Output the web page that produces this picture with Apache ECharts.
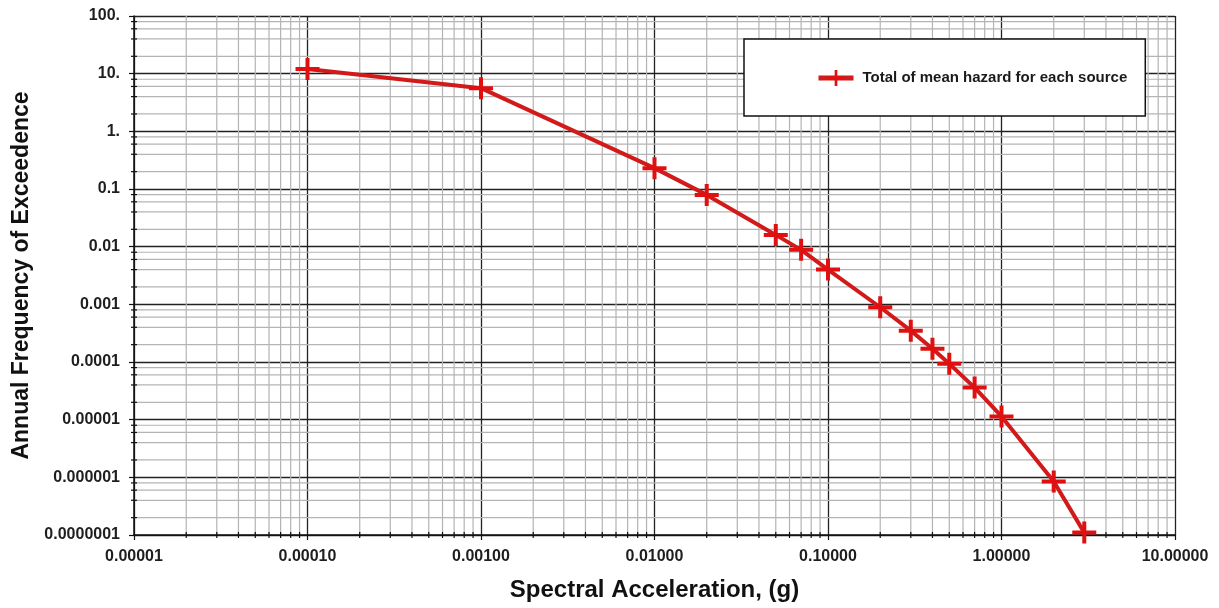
<!DOCTYPE html>
<html>
<head>
<meta charset="utf-8">
<script src="https://cdn.jsdelivr.net/npm/echarts@6/dist/echarts.min.js"></script>
<style>
  html, body { margin: 0; padding: 0; background: #fff; }
  #chart { width: 1219px; height: 608px; }
</style>
</head>
<body>
<div id="chart"></div>
<script>
// Hazard curve: spectral acceleration (g) vs annual frequency of exceedance
const accel = [0.0001, 0.001, 0.01, 0.02, 0.05, 0.07, 0.1, 0.2, 0.3, 0.4, 0.5, 0.7, 1.0, 2.0, 3.0];
const frequency = [12, 5.6, 0.23, 0.079, 0.016, 0.0088, 0.004, 0.00089, 0.00035, 0.00017, 0.000093, 0.000036, 0.0000114, 0.00000085, 0.00000011];
const seriesName = 'Total of mean hazard for each source';

const xMin = 0.00001, xMax = 10;
const yMin = 0.0000001, yMax = 100;

// Minor gridline positions (2..9 within each decade on x, 2,4,6,8 on y)
function minorValues(lo, hi, mults) {
  const out = [];
  for (let e = Math.round(Math.log10(lo)); e < Math.round(Math.log10(hi)); e++) {
    mults.forEach(m => out.push(m * Math.pow(10, e)));
  }
  return out;
}
const xMinor = minorValues(xMin, xMax, [2, 3, 4, 5, 6, 7, 8, 9]);
const yMinor = minorValues(yMin, yMax, [2, 4, 6, 8]);

const FONT = 'Liberation Sans, Arial, sans-serif';
const labelFont = { fontFamily: FONT, fontWeight: 'bold', fontSize: 16, color: '#1e1e1e' };
const plusPath = 'path://M0,9 H24 V13 H0 Z M10,0 H14 V22 H10 Z';

const chart = echarts.init(document.getElementById('chart'), null, { renderer: 'canvas' });

// Minor gridline plus a short tick crossing the axis line
function gridLines(axisDim) {
  return function (params, api) {
    const cs = params.coordSys;
    if (axisDim === 'x') {
      const px = api.coord([api.value(0), 1])[0];
      return {
        type: 'group',
        children: [
          { type: 'line', shape: { x1: px, y1: cs.y, x2: px, y2: cs.y + cs.height }, style: { stroke: '#b4b4b4', lineWidth: 1.2 } },
          { type: 'line', shape: { x1: px, y1: cs.y + cs.height - 3, x2: px, y2: cs.y + cs.height + 3 }, style: { stroke: '#111', lineWidth: 1.2 } }
        ]
      };
    }
    const py = api.coord([1, api.value(1)])[1];
    return {
      type: 'group',
      children: [
        { type: 'line', shape: { x1: cs.x, y1: py, x2: cs.x + cs.width, y2: py }, style: { stroke: '#b4b4b4', lineWidth: 1.2 } },
        { type: 'line', shape: { x1: cs.x - 3, y1: py, x2: cs.x + 3, y2: py }, style: { stroke: '#111', lineWidth: 1.2 } }
      ]
    };
  };
}

chart.setOption({
  animation: false,
  backgroundColor: '#fff',
  grid: { left: 134, right: 44, top: 16, bottom: 73, containLabel: false },
  legend: {
    left: 744, top: 39,
    padding: [31, 18, 30, 72],
    backgroundColor: '#fff',
    borderColor: '#111', borderWidth: 1.5,
    itemWidth: 35, itemHeight: 20, itemGap: 0,
    lineStyle: { width: 5, color: '#d21a1a' },
    textStyle: { fontFamily: FONT, fontWeight: 'bold', fontSize: 15, color: '#1a1a1a', padding: [0, 0, 0, 4] },
    data: [seriesName]
  },
  xAxis: {
    type: 'log', logBase: 10, min: xMin, max: xMax, splitNumber: 6,
    name: 'Spectral Acceleration, (g)', nameLocation: 'middle', nameGap: 43,
    nameTextStyle: { fontFamily: FONT, fontWeight: 'bold', fontSize: 24, color: '#111' },
    axisLine: { show: true, onZero: false, lineStyle: { color: '#111', width: 1.5 } },
    axisTick: { show: true, inside: false, length: 5, lineStyle: { color: '#111', width: 1.2 } },
    axisLabel: Object.assign({ margin: 14, formatter: v => v.toFixed(5) }, labelFont),
    splitLine: { show: true, lineStyle: { color: '#222', width: 1.3 } }
  },
  yAxis: {
    type: 'log', logBase: 10, min: yMin, max: yMax, splitNumber: 9,
    name: 'Annual Frequency of Exceedence', nameLocation: 'middle', nameGap: 100,
    nameTextStyle: { fontFamily: FONT, fontWeight: 'bold', fontSize: 23, color: '#111' },
    axisLine: { show: true, onZero: false, lineStyle: { color: '#111', width: 1.5 } },
    axisTick: { show: true, inside: false, length: 5, lineStyle: { color: '#111', width: 1.2 } },
    axisLabel: Object.assign({
      margin: 14,
      formatter: v => {
        const e = Math.round(Math.log10(v));
        return e >= 0 ? Math.round(v) + '.' : v.toFixed(-e);
      }
    }, labelFont),
    splitLine: { show: true, lineStyle: { color: '#222', width: 1.3 } }
  },
  series: [
    {
      type: 'custom', name: 'xMinor', silent: true, z: 0,
      renderItem: gridLines('x'),
      data: xMinor.map(v => [v, 1])
    },
    {
      type: 'custom', name: 'yMinor', silent: true, z: 0,
      renderItem: gridLines('y'),
      data: yMinor.map(v => [1, v])
    },
    {
      type: 'line', name: seriesName, z: 5,
      data: accel.map((x, i) => [x, frequency[i]]),
      symbol: plusPath, symbolSize: [24, 22],
      itemStyle: { color: '#e01010' },
      lineStyle: { color: '#d21a1a', width: 4 },
      clip: false
    }
  ]
});
</script>
</body>
</html>
